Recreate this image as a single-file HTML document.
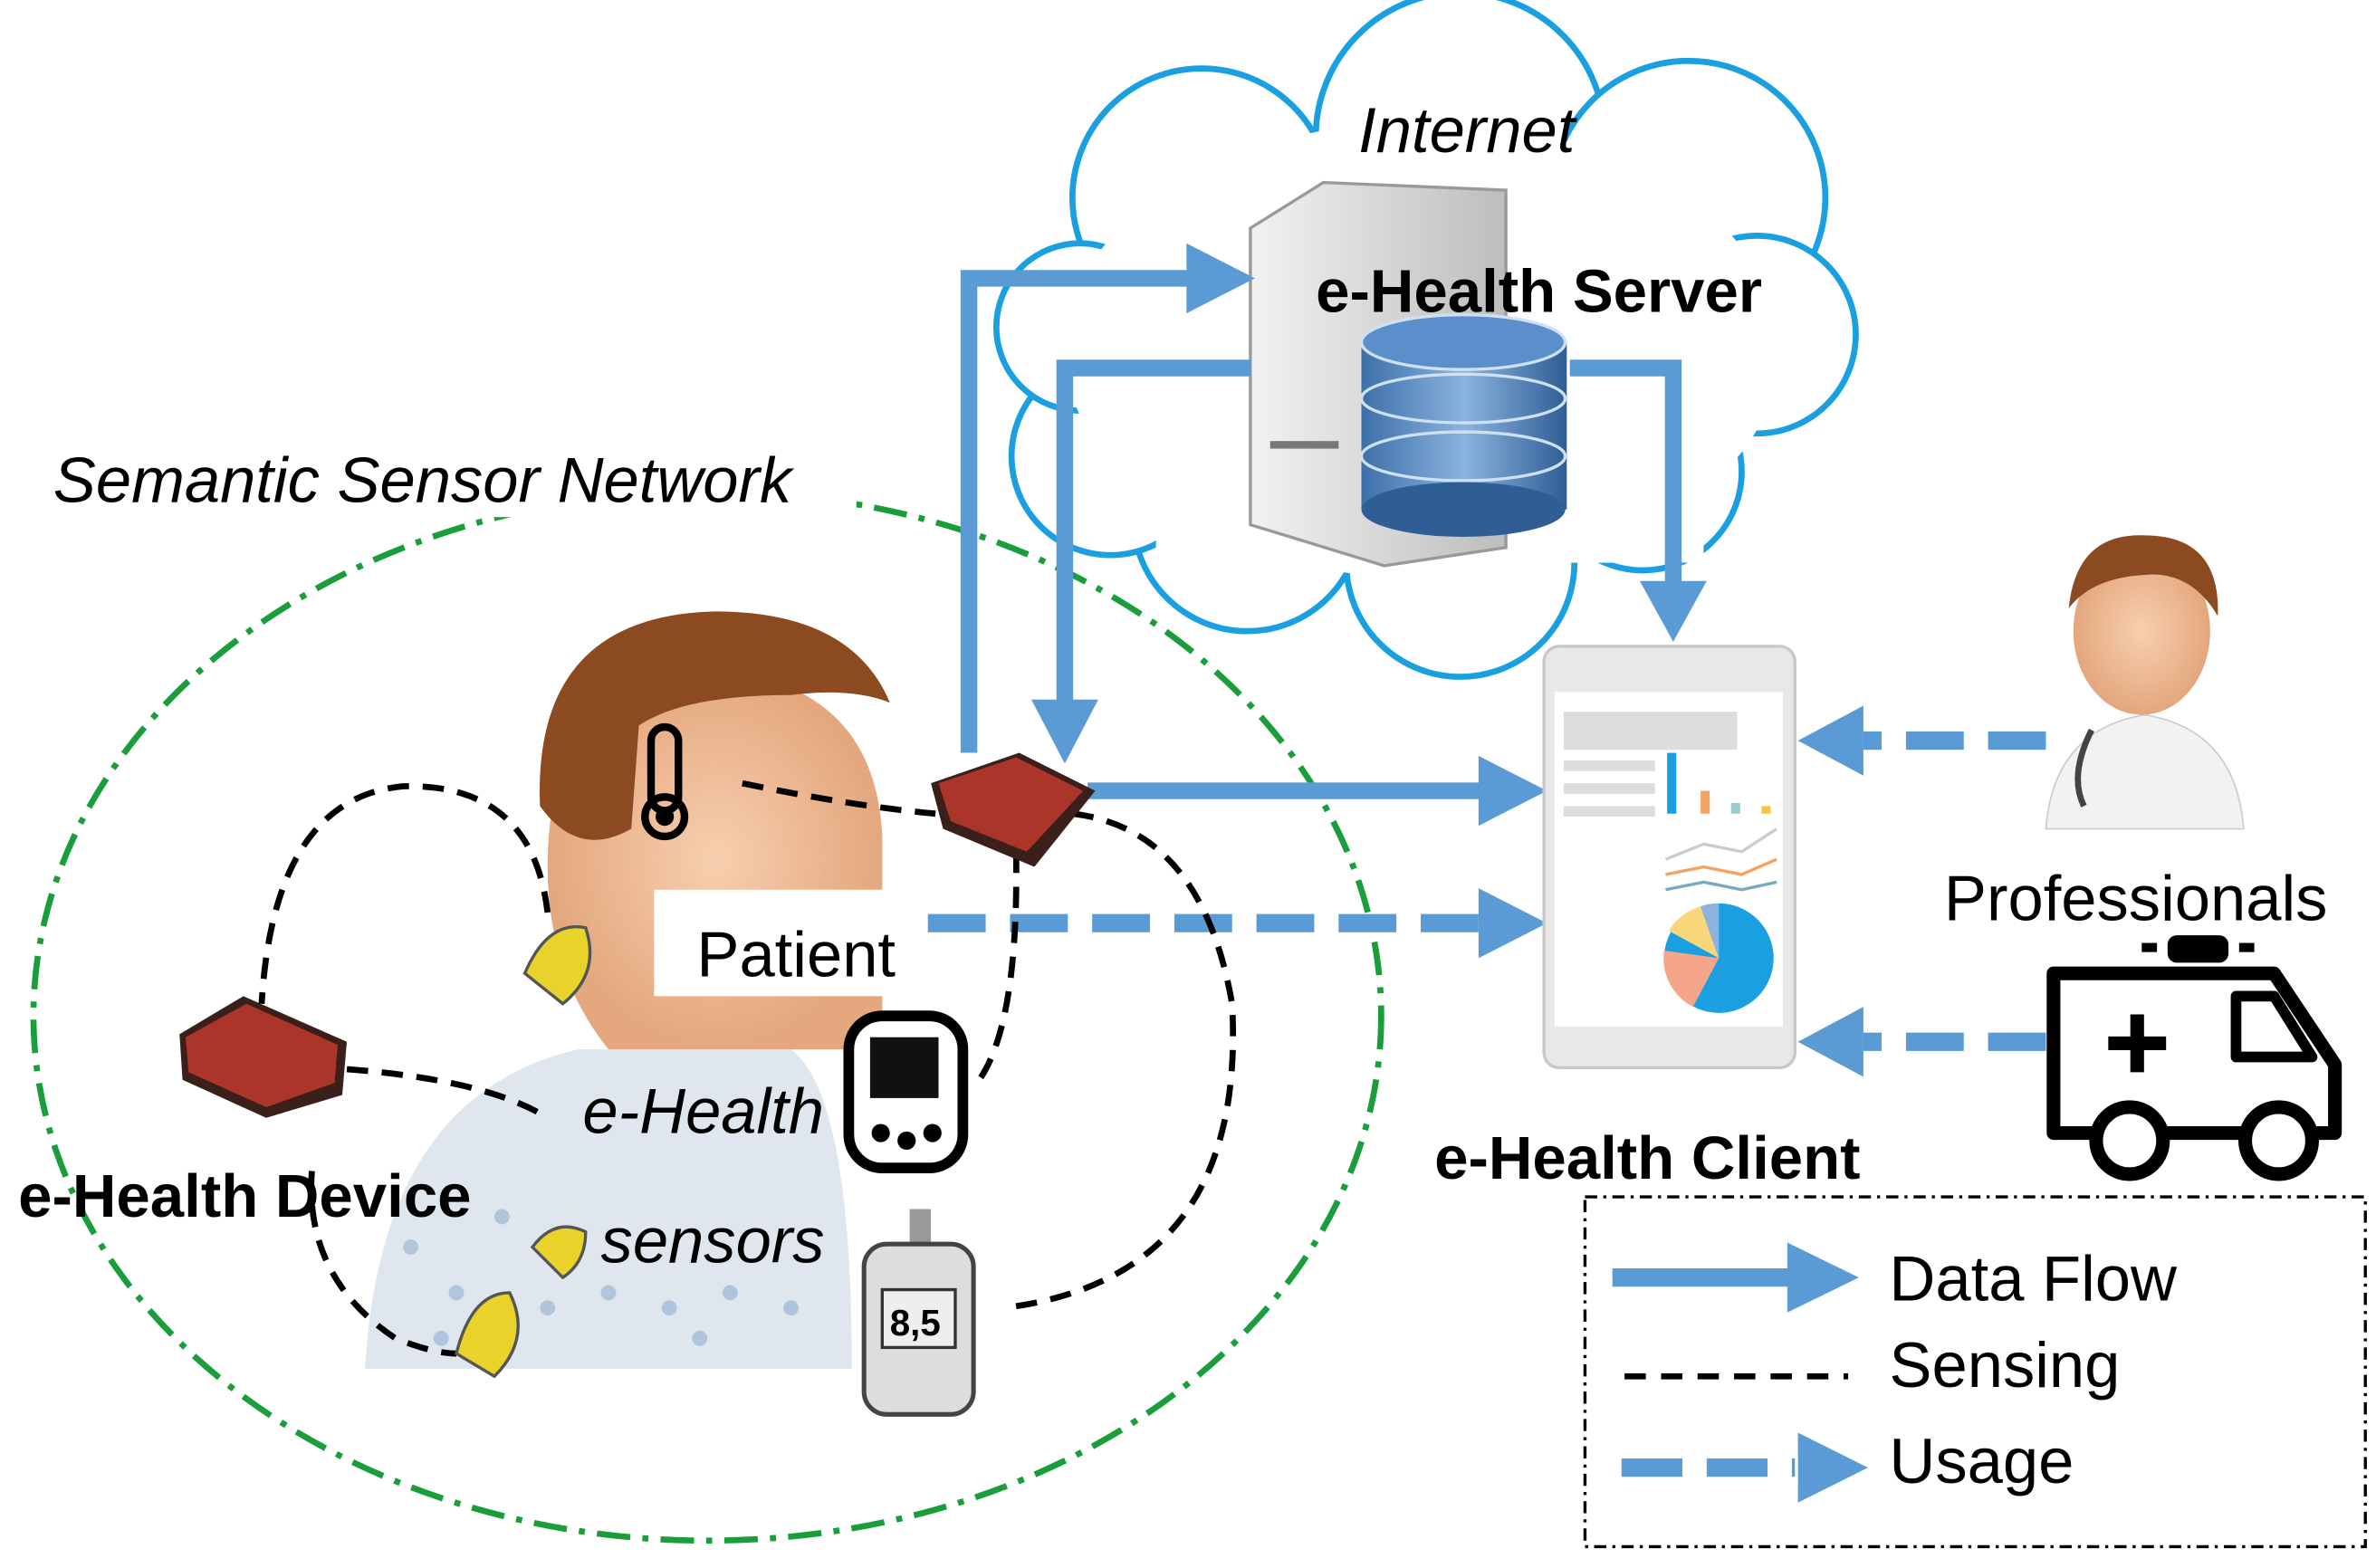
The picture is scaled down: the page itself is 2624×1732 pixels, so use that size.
<!DOCTYPE html>
<html><head><meta charset="utf-8"><style>
html,body{margin:0;padding:0;background:#fff;}
svg{display:block;}
text{font-family:"Liberation Sans",sans-serif;}
</style></head><body>
<svg width="2624" height="1732" viewBox="0 0 1562 1031" xmlns="http://www.w3.org/2000/svg">
<defs>
<linearGradient id="db" x1="0" x2="1"><stop offset="0" stop-color="#3d6fa8"/><stop offset="0.5" stop-color="#8ab4df"/><stop offset="1" stop-color="#2f5e95"/></linearGradient>
<linearGradient id="srv" x1="0" x2="1"><stop offset="0" stop-color="#f2f2f2"/><stop offset="1" stop-color="#bdbdbd"/></linearGradient>
<radialGradient id="skin"><stop offset="0" stop-color="#f7cfae"/><stop offset="1" stop-color="#e4a77e"/></radialGradient>
</defs>

<ellipse cx="465" cy="668" rx="443" ry="345" fill="none" stroke="#1a9e3c" stroke-width="4" stroke-dasharray="22,8,4,8"/>
<rect x="28" y="295" width="535" height="45" fill="#fff"/>
<text x="35" y="330" font-size="42" font-style="italic">Semantic Sensor Network</text>

<g fill="#fff" stroke="#1aa0e0" stroke-width="4">
<circle cx="790" cy="130" r="85"/>
<circle cx="960" cy="90" r="95"/>
<circle cx="1110" cy="130" r="90"/>
<circle cx="1155" cy="220" r="65"/>
<circle cx="1080" cy="310" r="65"/>
<circle cx="960" cy="370" r="75"/>
<circle cx="820" cy="340" r="75"/>
<circle cx="730" cy="300" r="65"/>
<circle cx="710" cy="215" r="55"/>
</g>
<ellipse cx="935" cy="230" rx="235" ry="150" fill="#fff"/>
<rect x="760" y="110" width="360" height="260" fill="#fff"/>
<text x="893" y="100" font-size="42" font-style="italic">Internet</text>

<path d="M822,150 L870,120 L990,125 L990,360 L910,372 L822,345 z" fill="url(#srv)" stroke="#999" stroke-width="2"/>
<rect x="835" y="290" width="45" height="5" fill="#777"/>
<g>
<rect x="895" y="225" width="135" height="110" fill="url(#db)"/>
<ellipse cx="962" cy="335" rx="67" ry="18" fill="#2f5e95"/>
<ellipse cx="962" cy="300" rx="67" ry="16" fill="none" stroke="#cfe0f3" stroke-width="2"/>
<ellipse cx="962" cy="262" rx="67" ry="16" fill="none" stroke="#cfe0f3" stroke-width="2"/>
<ellipse cx="962" cy="225" rx="67" ry="18" fill="#5a8fcb" stroke="#cfe0f3" stroke-width="2"/>
</g>
<text x="865" y="205" font-size="40" font-weight="bold">e-Health Server</text>

<g fill="none" stroke="#5b9bd5" stroke-width="11">
<path d="M637,495 L637,183 L790,183"/>
<path d="M822,242 L700,242 L700,470"/>
<path d="M1032,242 L1100,242 L1100,390"/>
<path d="M715,520 L980,520"/>
</g>
<g fill="#5b9bd5">
<path d="M780,160 L825,183 L780,206 z"/>
<path d="M678,460 L700,502 L722,460 z"/>
<path d="M1078,382 L1100,422 L1122,382 z"/>
<path d="M972,497 L1017,520 L972,543 z"/>
<path d="M972,584 L1017,607 L972,630 z"/>
<path d="M1225,464 L1182,487 L1225,510 z"/>
<path d="M1225,662 L1182,685 L1225,708 z"/>
</g>
<g fill="none" stroke="#5b9bd5" stroke-width="12" stroke-dasharray="38,16">
<path d="M610,607 L975,607"/>
<path d="M1345,487 L1225,487"/>
<path d="M1345,685 L1225,685"/>
</g>

<rect x="1015" y="425" width="165" height="277" rx="10" fill="#e8e8e8" stroke="#c8c8c8" stroke-width="2"/>
<rect x="1022" y="455" width="150" height="220" fill="#fff"/>
<rect x="1028" y="468" width="114" height="25" fill="#ddd"/>
<rect x="1028" y="500" width="60" height="7" fill="#ddd"/>
<rect x="1028" y="515" width="60" height="7" fill="#ddd"/>
<rect x="1028" y="530" width="60" height="7" fill="#ddd"/>
<rect x="1096" y="495" width="6" height="40" fill="#1aa0e0"/>
<rect x="1118" y="520" width="6" height="15" fill="#f4a261"/>
<rect x="1138" y="528" width="6" height="7" fill="#9cc"/>
<rect x="1158" y="530" width="6" height="5" fill="#f4c542"/>
<path d="M1095,565 L1120,555 L1145,560 L1168,545" stroke="#ccc" fill="none" stroke-width="2"/>
<path d="M1095,575 L1120,570 L1145,575 L1168,565" stroke="#f4a261" fill="none" stroke-width="2"/>
<path d="M1095,585 L1120,580 L1145,585 L1168,580" stroke="#7ab" fill="none" stroke-width="2"/>
<circle cx="1130" cy="630" r="36" fill="#1aa0e0"/>
<path d="M1130,630 L1094,625 A36,36 0 0 0 1113,662 z" fill="#f4a58a"/>
<path d="M1130,630 L1097,612 A36,36 0 0 1 1118,596 z" fill="#f9d67a"/>
<path d="M1130,630 L1118,596 A36,36 0 0 1 1130,594 z" fill="#8ab4df"/>
<text x="943" y="775" font-size="40" font-weight="bold">e-Health Client</text>

<path d="M1345,545 Q1350,480 1410,470 Q1470,480 1475,545 z" fill="#f2f2f2" stroke="#ccc"/>
<ellipse cx="1408" cy="415" rx="45" ry="55" fill="url(#skin)"/>
<path d="M1360,400 Q1365,350 1410,352 Q1460,352 1458,405 Q1440,375 1410,378 Q1375,380 1360,400 z" fill="#8b4a1f"/>
<path d="M1375,480 Q1360,510 1370,530" stroke="#444" stroke-width="4" fill="none"/>
<text x="1278" y="605" font-size="42">Professionals</text>

<g fill="none" stroke="#000" stroke-width="9" stroke-linejoin="round">
<path d="M1350,640 L1465,640 L1495,640 L1535,700 L1535,745 L1350,745 z"/>
<path d="M1470,655 L1495,655 L1520,695 L1470,695 z" stroke-width="7"/>
</g>
<rect x="1425" y="615" width="40" height="18" rx="6" fill="#000"/>
<rect x="1408" y="620" width="10" height="6" fill="#000"/><rect x="1472" y="620" width="10" height="6" fill="#000"/>
<path d="M1405,667 L1405,705 M1386,686 L1424,686" stroke="#000" stroke-width="9"/>
<circle cx="1400" cy="750" r="22" fill="#fff" stroke="#000" stroke-width="9"/>
<circle cx="1498" cy="750" r="22" fill="#fff" stroke="#000" stroke-width="9"/>

<rect x="1042" y="787" width="513" height="230" fill="none" stroke="#000" stroke-width="2" stroke-dasharray="8,4,2,4"/>
<path d="M1060,840 L1180,840" stroke="#5b9bd5" stroke-width="12"/>
<path d="M1175,817 L1222,840 L1175,863 z" fill="#5b9bd5"/>
<path d="M1068,905 L1215,905" stroke="#000" stroke-width="4" stroke-dasharray="14,10"/>
<path d="M1066,965 L1180,965" stroke="#5b9bd5" stroke-width="12" stroke-dasharray="40,16"/>
<path d="M1182,942 L1228,965 L1182,988 z" fill="#5b9bd5"/>
<text x="1242" y="855" font-size="42">Data Flow</text>
<text x="1242" y="912" font-size="42">Sensing</text>
<text x="1242" y="975" font-size="42">Usage</text>

<path d="M240,900 Q250,720 380,690 L520,690 Q560,720 560,900 z" fill="#dfe6ee"/>
<g fill="#9bb8d6" opacity="0.7">
<circle cx="270" cy="820" r="5"/><circle cx="300" cy="850" r="5"/><circle cx="330" cy="800" r="5"/><circle cx="360" cy="860" r="5"/><circle cx="400" cy="850" r="5"/><circle cx="440" cy="860" r="5"/><circle cx="480" cy="850" r="5"/><circle cx="520" cy="860" r="5"/><circle cx="290" cy="880" r="5"/><circle cx="460" cy="880" r="5"/>
</g>
<path d="M360,570 Q360,450 460,440 Q575,445 580,550 L580,690 L400,690 Q360,640 360,570 z" fill="url(#skin)"/>
<path d="M355,530 Q350,405 470,402 Q560,402 585,462 Q560,452 520,457 Q450,457 420,477 L415,545 Q380,565 355,530 z" fill="#8b4a1f"/>
<rect x="430" y="585" width="160" height="70" fill="#fff"/>
<rect x="428" y="478" width="18" height="55" rx="9" fill="none" stroke="#000" stroke-width="5"/>
<circle cx="437" cy="537" r="13" fill="none" stroke="#000" stroke-width="5"/>
<circle cx="437" cy="537" r="6" fill="#000"/>

<g fill="none" stroke="#000" stroke-width="4" stroke-dasharray="14,9">
<path d="M488,515 Q560,530 615,535"/>
<path d="M360,600 Q350,515 265,517 Q180,525 172,660"/>
<path d="M228,703 Q320,710 360,735"/>
<path d="M205,770 Q200,840 260,880 Q285,890 300,890"/>
<path d="M705,535 Q790,545 810,660 Q820,840 660,860"/>
<path d="M668,560 Q670,680 640,715"/>
</g>

<g>
<path d="M612,515 L670,495 L720,520 L680,570 L620,545 z" fill="#3a1f1a"/>
<path d="M617,515 L668,498 L712,520 L675,560 L625,540 z" fill="#c0392b" opacity="0.85"/>
<path d="M118,680 L160,655 L228,685 L225,720 L175,735 L120,710 z" fill="#3a1f1a"/>
<path d="M122,682 L162,660 L222,687 L220,712 L175,728 L124,705 z" fill="#c0392b" opacity="0.85"/>
</g>
<g fill="#e9d22a" stroke="#555" stroke-width="2">
<path d="M345,640 Q360,605 385,610 Q395,640 370,660 z"/>
<path d="M300,890 Q310,850 335,850 Q350,880 325,905 z"/>
<path d="M350,820 Q365,800 385,810 Q385,830 370,840 z"/>
</g>
<rect x="558" y="668" width="75" height="100" rx="22" fill="#fff" stroke="#000" stroke-width="7"/>
<rect x="572" y="682" width="45" height="40" fill="#111"/>
<circle cx="579" cy="745" r="6" fill="#000"/><circle cx="596" cy="750" r="6" fill="#000"/><circle cx="613" cy="745" r="6" fill="#000"/>
<rect x="598" y="795" width="14" height="25" fill="#999"/>
<rect x="568" y="818" width="72" height="112" rx="15" fill="#ddd" stroke="#444" stroke-width="3"/>
<rect x="580" y="848" width="48" height="38" fill="#eee" stroke="#333" stroke-width="2"/>
<text x="585" y="878" font-size="24" font-weight="bold">8,5</text>

<text x="458" y="642" font-size="42">Patient</text>
<text x="383" y="745" font-size="42" font-style="italic">e-Health</text>
<text x="395" y="830" font-size="42" font-style="italic">sensors</text>
<rect x="8" y="762" width="335" height="48" fill="#fff" opacity="0"/>
<text x="12" y="800" font-size="40" font-weight="bold">e-Health Device</text>
</svg>
</body></html>
